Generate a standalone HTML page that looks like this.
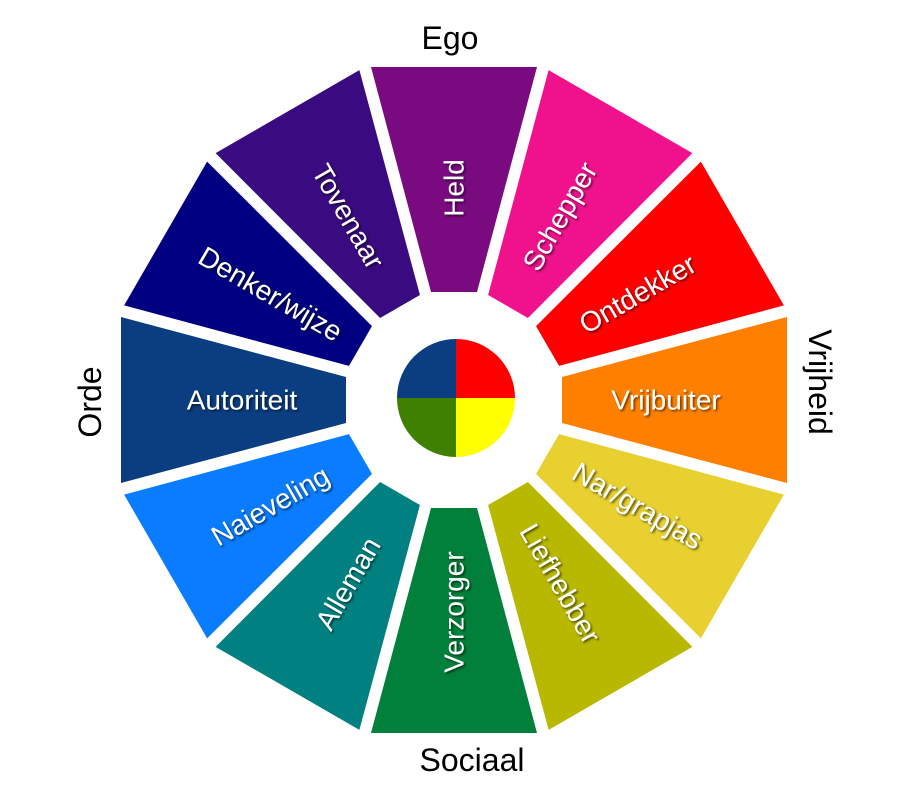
<!DOCTYPE html>
<html><head><style>
html,body{margin:0;padding:0;background:#fff;}
svg{display:block;}
text{font-family:"Liberation Sans",Arial,sans-serif;}
.l{fill:#fff;font-size:28px;text-anchor:middle;dominant-baseline:central;}
.o{fill:#000;font-size:32px;text-anchor:middle;dominant-baseline:central;}
</style></head><body>
<svg width="900" height="800" viewBox="0 0 900 800">
<defs>
<filter id="s" x="-20%" y="-20%" width="140%" height="140%"><feDropShadow dx="1.5" dy="1.5" stdDeviation="1" flood-color="#000" flood-opacity="0.6"/></filter>
<polygon id="seg" points="108,-23 333,-83 333,83 108,23"/>
</defs>
<g transform="translate(454,400)">
<use href="#seg" transform="rotate(-90)" fill="#7a0a80"/>
<use href="#seg" transform="rotate(-60)" fill="#f0128c"/>
<use href="#seg" transform="rotate(-30)" fill="#ff0000"/>
<use href="#seg" transform="rotate(0)" fill="#ff8000"/>
<use href="#seg" transform="rotate(30)" fill="#e8d030"/>
<use href="#seg" transform="rotate(60)" fill="#b8b800"/>
<use href="#seg" transform="rotate(90)" fill="#00803a"/>
<use href="#seg" transform="rotate(120)" fill="#008080"/>
<use href="#seg" transform="rotate(150)" fill="#0a7cff"/>
<use href="#seg" transform="rotate(180)" fill="#0a3e80"/>
<use href="#seg" transform="rotate(210)" fill="#000080"/>
<use href="#seg" transform="rotate(240)" fill="#3a0a80"/>
<g filter="url(#s)">
<text class="l" transform="rotate(-90) translate(212,0)">Held</text>
<text class="l" transform="rotate(-60) translate(212,0)">Schepper</text>
<text class="l" transform="rotate(-30) translate(212,0)">Ontdekker</text>
<text class="l" transform="rotate(0) translate(212,0)">Vrijbuiter</text>
<text class="l" transform="rotate(30) translate(212,0)">Nar/grapjas</text>
<text class="l" transform="rotate(60) translate(212,0)">Liefhebber</text>
<text class="l" transform="rotate(90) translate(212,0) rotate(180)">Verzorger</text>
<text class="l" transform="rotate(120) translate(212,0) rotate(180)">Alleman</text>
<text class="l" transform="rotate(150) translate(212,0) rotate(180)">Naieveling</text>
<text class="l" transform="rotate(180) translate(212,0) rotate(180)">Autoriteit</text>
<text class="l" transform="rotate(210) translate(212,0) rotate(180)">Denker/wijze</text>
<text class="l" transform="rotate(240) translate(212,0) rotate(180)">Tovenaar</text>
</g>
</g>
<g transform="translate(456,398)">
<path d="M0,0 L0,-59 A59,59 0 0 1 59,0 Z" fill="#ff0000"/>
<path d="M0,0 L59,0 A59,59 0 0 1 0,59 Z" fill="#ffff00"/>
<path d="M0,0 L0,59 A59,59 0 0 1 -59,0 Z" fill="#408000"/>
<path d="M0,0 L-59,0 A59,59 0 0 1 0,-59 Z" fill="#0a3e80"/>
</g>
<text class="o" x="450" y="38">Ego</text>
<text class="o" x="472" y="760">Sociaal</text>
<text class="o" transform="translate(820,382) rotate(90)">Vrijheid</text>
<text class="o" transform="translate(90,402) rotate(-90)">Orde</text>
</svg>
</body></html>
